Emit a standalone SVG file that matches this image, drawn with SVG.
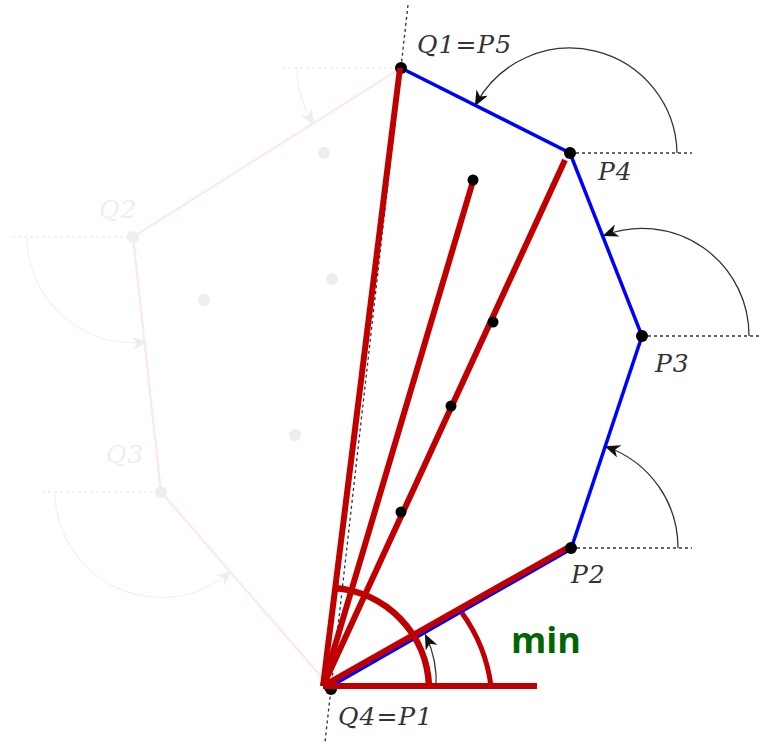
<svg xmlns="http://www.w3.org/2000/svg" width="769" height="744" viewBox="0 0 769 744">
<defs>
<marker id="arr" viewBox="0 0 12 10" refX="10" refY="5" markerWidth="16" markerHeight="13" markerUnits="userSpaceOnUse" orient="auto">
<path d="M0,0 L12,5 L0,10 L3.5,5 z" fill="#111"/>
</marker>
<marker id="arrf" viewBox="0 0 12 10" refX="10" refY="5" markerWidth="16" markerHeight="13" markerUnits="userSpaceOnUse" orient="auto">
<path d="M0,0 L12,5 L0,10 L3.5,5 z" fill="#eeeeee"/>
</marker>
</defs>
<style>
.lbl{font-family:"DejaVu Serif",serif;font-style:italic;font-size:25px;fill:#333;letter-spacing:1px}
.flbl{font-family:"DejaVu Serif",serif;font-style:italic;font-size:25px;fill:#eeeeee;letter-spacing:1px}
.dash{stroke:#333;stroke-width:1.3;stroke-dasharray:3,3;fill:none}
.fdash{stroke:#eeeeee;stroke-width:1.3;stroke-dasharray:3,3;fill:none}
.arc{stroke:#333;stroke-width:1.3;fill:none;marker-end:url(#arr)}
.farc{stroke:#f2f2f2;stroke-width:1.3;fill:none;marker-end:url(#arrf)}
.blue{stroke:#0000ff;stroke-width:3.5;fill:none;stroke-linecap:round}
.red{stroke:#c00000;stroke-width:6;fill:none}
.fpink{stroke:#ffe6e6;stroke-width:2;fill:none}
.dot{fill:#000}
.fdot{fill:#eeeeee}
</style>
<rect width="769" height="744" fill="#fff"/>

<g id="connectors">
<polyline class="fpink" points="401,68 133,237 161,492 331,688"/>
<line class="fdash" x1="282" y1="68" x2="401" y2="68"/>
<line class="fdash" x1="12" y1="237" x2="133" y2="237"/>
<line class="fdash" x1="42" y1="492" x2="161" y2="492"/>
<path class="farc" d="M297,68 A104,104 0 0 0 313,123"/>
<path class="farc" d="M27,237 A106,106 0 0 0 145,342"/>
<path class="farc" d="M55,492 A106,106 0 0 0 230,572"/>

<line class="dash" x1="408" y1="5" x2="325" y2="742"/>
<line class="dash" x1="570" y1="153" x2="692" y2="153"/>
<line class="dash" x1="642" y1="336" x2="762" y2="336"/>
<line class="dash" x1="571" y1="548" x2="692" y2="548"/>
<line class="dash" x1="331" y1="688" x2="445" y2="688"/>

<path class="arc" d="M677,153 A107,107 0 0 0 476,104"/>
<path class="arc" d="M749,336 A107,107 0 0 0 605,235"/>
<path class="arc" d="M678,548 A107,107 0 0 0 607,447"/>
<path class="arc" d="M436,688 A105,105 0 0 0 426,636"/>

<polyline class="blue" points="326,689 571,549 642,336 570,153 401,68"/>
</g>

<g id="P1"><circle class="dot" cx="331" cy="689" r="6"/></g>
<g id="P5"><circle class="dot" cx="401" cy="68" r="6"/></g>

<g id="red-rays">
<line class="red" x1="323" y1="686" x2="400" y2="68"/>
<line class="red" x1="323" y1="686" x2="473" y2="181"/>
<line class="red" x1="323" y1="686" x2="565" y2="160"/>
<line class="red" x1="323" y1="686" x2="567" y2="548"/>
<line class="red" x1="323" y1="686" x2="537" y2="686"/>
<path d="M429,686 A102,102 0 0 0 334,588" stroke="#c00000" stroke-width="6.5" fill="none"/>
<path d="M491,686 A160,160 0 0 0 462,613" stroke="#c00000" stroke-width="5" fill="none"/>
</g>

<g id="P2"><circle class="dot" cx="571" cy="548" r="6"/></g>
<g id="P3"><circle class="dot" cx="642" cy="336" r="6"/></g>
<g id="P4"><circle class="dot" cx="570" cy="153" r="6"/></g>
<g id="inner-points">
<circle class="dot" cx="473" cy="180" r="5.5"/>
<circle class="dot" cx="493" cy="322" r="5.5"/>
<circle class="dot" cx="451" cy="406" r="5.5"/>
<circle class="dot" cx="401" cy="512" r="5.5"/>
</g>
<g id="Q2"><circle class="fdot" cx="133" cy="237" r="6"/><text class="flbl" x="99" y="218">Q2</text></g>
<g id="Q3"><circle class="fdot" cx="161" cy="492" r="6"/><text class="flbl" x="106" y="463">Q3</text></g>
<g id="faded-points">
<circle class="fdot" cx="324" cy="153" r="6"/>
<circle class="fdot" cx="204" cy="300" r="6"/>
<circle class="fdot" cx="332" cy="279" r="6"/>
<circle class="fdot" cx="295" cy="435" r="6"/>
</g>

<g id="labels">
<text class="lbl" x="417" y="53">Q1=P5</text>
<text class="lbl" x="598" y="180">P4</text>
<text class="lbl" x="655" y="372">P3</text>
<text class="lbl" x="571" y="583">P2</text>
<text class="lbl" x="338" y="725">Q4=P1</text>
<text x="511" y="653" font-family="'Open Sans',sans-serif" font-weight="bold" font-size="36" fill="#006600">min</text>
</g>
</svg>
